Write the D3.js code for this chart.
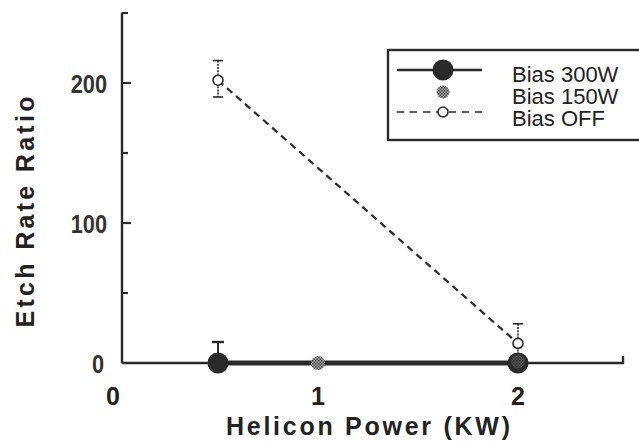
<!DOCTYPE html>
<html>
<head>
<meta charset="utf-8">
<title>Etch Rate Ratio vs Helicon Power</title>
<style>
  body { margin: 0; background: #fff; }
  svg { display: block; }
  text { font-family: "Liberation Sans", Arial, sans-serif; fill: #222; }
  .axis-line { stroke: #2a2a2a; stroke-width: 2.4; fill: none; }
  .tick { stroke: #2a2a2a; stroke-width: 2.2; }
  .ylab { font-size: 25px; font-weight: bold; fill: #333; }
  .xlab { font-size: 25px; font-weight: bold; }
  .title { font-size: 25px; font-weight: bold; }
  .legend text { font-size: 22px; }
</style>
</head>
<body>
<svg width="639" height="442"></svg>
<script src="https://d3js.org/d3.v7.min.js"></script>
<script>
// data
const seriesNames = ["Bias 300W", "Bias 150W", "Bias OFF"];

const power300 = [0.5, 2];
const ratio300 = [0, 0];
const errUp300 = [15, 0];

const power150 = [1, 2];
const ratio150 = [0, 1];

const powerOff = [0.5, 2];
const ratioOff = [202, 14];
const errLoOff = [190, 0];
const errHiOff = [216, 28];

const xTicks = [0, 1, 2];
const yTicks = [0, 100, 200];
const yMinor = [50, 150, 250];

const svg = d3.select("svg");
const ink = "#2a2a2a";

const x = d3.scaleLinear().domain([0, 2.5]).range([118, 618]);
const y = d3.scaleLinear().domain([0, 250]).range([363, 13]);
const axisX = 122;

// pattern for the grey dotted marker
const defs = svg.append("defs");
const pat = defs.append("pattern").attr("id", "dots")
    .attr("width", 3).attr("height", 3).attr("patternUnits", "userSpaceOnUse");
pat.append("rect").attr("width", 3).attr("height", 3).attr("fill", "#b5b5b5");
pat.append("rect").attr("width", 1.5).attr("height", 1.5).attr("fill", "#333");
pat.append("rect").attr("x", 1.5).attr("y", 1.5).attr("width", 1.5).attr("height", 1.5).attr("fill", "#444");

// axes
svg.append("line").attr("class", "axis-line")
    .attr("x1", axisX).attr("x2", axisX).attr("y1", y(250)).attr("y2", y(0));
svg.append("path").attr("class", "axis-line")
    .attr("d", `M${axisX},${y(0)}H${x(2.525)}V${y(0) - 7}`);

svg.selectAll(".ymaj").data(yTicks.filter(d => d > 0)).enter().append("line")
    .attr("class", "tick")
    .attr("x1", axisX).attr("x2", axisX + 9)
    .attr("y1", d => y(d)).attr("y2", d => y(d));
svg.selectAll(".ymin").data(yMinor).enter().append("line")
    .attr("class", "tick")
    .attr("x1", axisX).attr("x2", axisX + 6)
    .attr("y1", d => y(d)).attr("y2", d => y(d));

svg.selectAll(".ylab").data(yTicks).enter().append("text")
    .attr("class", "ylab")
    .attr("x", d => d === 0 ? 104 : 107)
    .attr("y", d => y(d) + 10)
    .attr("text-anchor", "end")
    .text(d => d)
    .each(function() {
        const w = this.getComputedTextLength();
        d3.select(this).attr("textLength", w * 0.87).attr("lengthAdjust", "spacingAndGlyphs");
    });

svg.selectAll(".xlab").data(xTicks).enter().append("text")
    .attr("class", "xlab")
    .attr("x", d => x(d) + (d === 0 ? -5 : 0))
    .attr("y", 405)
    .attr("text-anchor", "middle")
    .text(d => d);

svg.append("text").attr("class", "title")
    .attr("x", 368).attr("y", 435).attr("text-anchor", "middle")
    .attr("textLength", 284)
    .text("Helicon Power (KW)");

svg.append("text").attr("class", "title")
    .attr("transform", "translate(34,212) rotate(-90)")
    .attr("text-anchor", "middle")
    .attr("textLength", 231)
    .text("Etch Rate Ratio");

// Bias OFF: dashed line, wavy error bars, open circles
const line = d3.line().x(d => x(d[0])).y(d => y(d[1]));
const offPts = powerOff.map((p, i) => [p, ratioOff[i]]);
svg.append("path").attr("d", line(offPts))
    .attr("fill", "none").attr("stroke", ink).attr("stroke-width", 2.2)
    .attr("stroke-dasharray", "7,5");

offPts.forEach((d, i) => {
    const cx = x(d[0]);
    svg.append("line")
        .attr("x1", cx).attr("x2", cx)
        .attr("y1", y(errHiOff[i])).attr("y2", y(errLoOff[i]))
        .attr("stroke", ink).attr("stroke-width", 1.6).attr("stroke-dasharray", "2,1.2");
    [errHiOff[i], errLoOff[i]].filter(v => v > 0).forEach(v => {
        svg.append("line")
            .attr("x1", cx - 5).attr("x2", cx + 5)
            .attr("y1", y(v)).attr("y2", y(v))
            .attr("stroke", ink).attr("stroke-width", 1.6);
    });
});

// Bias 300W thick line + filled circles
const p300 = power300.map((p, i) => [p, ratio300[i]]);
svg.append("path").attr("d", line(p300))
    .attr("fill", "none").attr("stroke", ink).attr("stroke-width", 5);
p300.forEach((d, i) => {
    if (errUp300[i] > 0) {
        svg.append("line")
            .attr("x1", x(d[0])).attr("x2", x(d[0]))
            .attr("y1", y(d[1])).attr("y2", y(errUp300[i]))
            .attr("stroke", ink).attr("stroke-width", 2);
        svg.append("line")
            .attr("x1", x(d[0]) - 6).attr("x2", x(d[0]) + 6)
            .attr("y1", y(errUp300[i])).attr("y2", y(errUp300[i]))
            .attr("stroke", ink).attr("stroke-width", 2.4);
    }
});
svg.selectAll(".m300").data(p300).enter().append("circle")
    .attr("cx", d => x(d[0])).attr("cy", d => y(d[1])).attr("r", 10.5)
    .attr("fill", ink);

// Bias 150W dotted markers
const p150 = power150.map((p, i) => [p, ratio150[i]]);
svg.selectAll(".m150").data(p150).enter().append("circle")
    .attr("cx", d => x(d[0])).attr("cy", d => y(d[1])).attr("r", 7)
    .attr("fill", "url(#dots)")
    .attr("opacity", (d, i) => i === 0 ? 1 : 0.35);

// Bias OFF markers on top
svg.selectAll(".moff").data(offPts).enter().append("circle")
    .attr("cx", d => x(d[0])).attr("cy", d => y(d[1])).attr("r", 5)
    .attr("fill", "#fff").attr("stroke", ink).attr("stroke-width", 1.6);

// legend
const lg = svg.append("g").attr("class", "legend");
lg.append("rect").attr("x", 388).attr("y", 50).attr("width", 260).attr("height", 90)
    .attr("fill", "#fff").attr("stroke", ink).attr("stroke-width", 2.4);
const symY = [70, 92, 112];
const txtY = [82, 104, 126];
lg.append("line").attr("x1", 397).attr("x2", 482).attr("y1", symY[0]).attr("y2", symY[0])
    .attr("stroke", ink).attr("stroke-width", 2.4);
lg.append("circle").attr("cx", 443).attr("cy", symY[0]).attr("r", 10.5).attr("fill", ink);
lg.append("circle").attr("cx", 443).attr("cy", symY[1]).attr("r", 6.5).attr("fill", "url(#dots)");
lg.append("line").attr("x1", 397).attr("x2", 484).attr("y1", symY[2]).attr("y2", symY[2])
    .attr("stroke", ink).attr("stroke-width", 1.6).attr("stroke-dasharray", "7,6");
lg.append("circle").attr("cx", 443).attr("cy", symY[2]).attr("r", 5)
    .attr("fill", "#fff").attr("stroke", ink).attr("stroke-width", 1.6);
lg.selectAll(".lt").data(seriesNames).enter().append("text")
    .attr("x", 512).attr("y", (d, i) => txtY[i])
    .text(d => d);
</script>
</body>
</html>
